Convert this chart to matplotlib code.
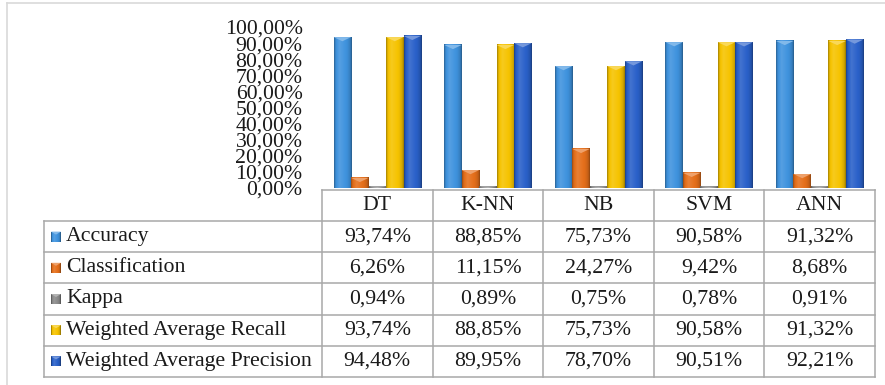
import numpy as np
import matplotlib.pyplot as plt
from matplotlib.patches import Polygon
from matplotlib.colors import to_rgb

plt.rcParams['font.family'] = ['Liberation Serif', 'DejaVu Serif']

# Données : performances des classifieurs (en %)
models = ['DT', 'K-NN', 'NB', 'SVM', 'ANN']
metrics = ['Accuracy', 'Classification', 'Kappa',
           'Weighted Average Recall', 'Weighted Average Precision']
accuracy = [93.74, 88.85, 75.73, 90.58, 91.32]
classification = [6.26, 11.15, 24.27, 9.42, 8.68]
kappa = [0.94, 0.89, 0.75, 0.78, 0.91]
recall = [93.74, 88.85, 75.73, 90.58, 91.32]
precision = [94.48, 89.95, 78.70, 90.51, 92.21]
yticks = np.arange(0, 101, 10)

series = [accuracy, classification, kappa, recall, precision]
colors = ['#3f93de', '#e56f1b', '#8a8a8a', '#f6c300', '#2a61c9']
fs = 15.7


def fmt(v):
    return f"{v:.2f}%".replace('.', ',')


def shade(c, f):
    c = np.array(to_rgb(c))
    if f >= 1:
        return c + (1 - c) * (f - 1)
    return c * f


def gradient(c, n=24):
    # profil horizontal d'une barre "biseautée"
    t = np.linspace(0, 1, n)
    prof = np.interp(t, [0, 0.08, 0.3, 0.75, 0.92, 1], [0.7, 0.95, 1.12, 0.97, 0.85, 0.65])
    return np.array([[shade(c, f) for f in prof]])


W, H = 885, 385
fig = plt.figure(figsize=(W / 100, H / 100), dpi=100)

x_left, x_right = 322, 875
y_zero, y_top = 188, 27
ax = fig.add_axes([x_left / W, 1 - y_zero / H, (x_right - x_left) / W, (y_zero - y_top) / H])

# Barres groupées
n = len(series)
bw = 0.158
x = np.arange(len(models))
for i, (vals, c) in enumerate(zip(series, colors)):
    for xi, v in zip(x, vals):
        x0 = xi + 0.5 - n * bw / 2 + i * bw
        ax.imshow(gradient(c), extent=(x0, x0 + bw, 0, v), aspect='auto',
                  interpolation='bilinear', zorder=2)
        d = min(2.6, v)
        ax.add_patch(Polygon([(x0, v), (x0 + bw, v), (x0 + bw / 2, v - d)],
                             closed=True, color=shade(c, 1.35), lw=0, zorder=3))

ax.set_xlim(0, len(models))
ax.set_ylim(0, 100)
ax.set_yticks(yticks)
ax.set_yticklabels([fmt(v) for v in yticks], fontsize=fs, color='#1a1a1a')
ax.tick_params(axis='y', length=0, pad=14)
ax.set_xticks([])
for s in ax.spines.values():
    s.set_visible(False)
ax.patch.set_alpha(0)

# Tableau de données sous le graphique
ov = fig.add_axes([0, 0, 1, 1], zorder=-1)
ov.set_xlim(0, W)
ov.set_ylim(H, 0)
ov.axis('off')

grid = '#a8a8a8'
col_x = np.linspace(x_left, x_right, len(models) + 1)
row_y = np.linspace(221, 377, len(metrics) + 1)
head_top = 190
leg_left = 44

ov.plot([x_left, x_right], [head_top, head_top], color=grid, lw=1.1)
for yy in row_y:
    ov.plot([leg_left, x_right], [yy, yy], color=grid, lw=1.1)
ov.plot([leg_left, leg_left], [row_y[0], row_y[-1]], color=grid, lw=1.1)
for xx in col_x:
    ov.plot([xx, xx], [head_top, row_y[-1]], color=grid, lw=1.1)

for j, m in enumerate(models):
    ov.text((col_x[j] + col_x[j + 1]) / 2, (head_top + row_y[0]) / 2, m,
            ha='center', va='center', fontsize=fs, color='#1a1a1a')

for i, (name, vals, c) in enumerate(zip(metrics, series, colors)):
    yc = (row_y[i] + row_y[i + 1]) / 2
    ov.imshow(gradient(c, 10), extent=(51, 61, yc + 5, yc - 5), aspect='auto',
              interpolation='bilinear')
    ov.add_patch(Polygon([(51, yc - 5), (61, yc - 5), (56, yc - 2)],
                         closed=True, color=shade(c, 1.35), lw=0))
    ov.text(66, yc, name, ha='left', va='center', fontsize=fs, color='#1a1a1a')
    for j, v in enumerate(vals):
        ov.text((col_x[j] + col_x[j + 1]) / 2, yc, fmt(v),
                ha='center', va='center', fontsize=fs, color='#1a1a1a')

# Cadre de la zone de graphique
ov.plot([7, W], [3, 3], color='#d9d9d9', lw=1.2)
ov.plot([7, 7], [3, H], color='#d9d9d9', lw=1.2)
ov.set_xlim(0, W)
ov.set_ylim(H, 0)

fig.savefig('out.png', dpi=100)
